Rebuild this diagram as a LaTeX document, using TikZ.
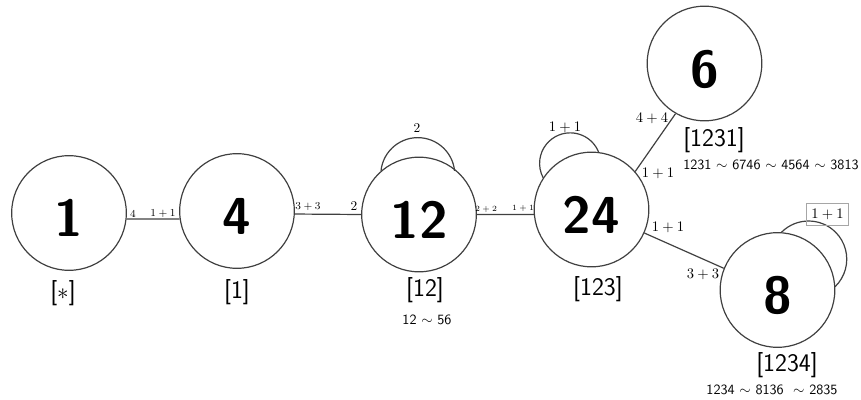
\documentclass[tikz,border=0pt]{standalone}
\usepackage{fontspec}
\begin{document}
\begin{tikzpicture}[x=0.75pt,y=0.75pt,
  vert/.style={circle, draw=black!75, line width=0.9pt, minimum size=86pt, inner sep=0pt,
    font=\fontsize{39}{39}\selectfont\sffamily\bfseries, text height=36pt, text depth=0pt},
  conn/.style={draw=black!75, line width=0.9pt},
  lab/.style={inner sep=0pt, font=\fontsize{19}{19}\selectfont\sffamily},
  rel/.style={inner sep=0pt, font=\fontsize{10.6}{11}\selectfont\sffamily},
  elab/.style={inner sep=0pt, font=\fontsize{11}{11}\selectfont},
  elabs/.style={inner sep=0pt, font=\fontsize{8}{8}\selectfont},
  elabt/.style={inner sep=0pt, font=\fontsize{6.5}{6.5}\selectfont},
  elabm/.style={inner sep=0pt, font=\fontsize{10}{10}\selectfont},
  boxlab/.style={draw=black!35, line width=0.6pt, minimum width=32pt, minimum height=16.5pt,
    inner sep=0pt, font=\fontsize{11}{11}\selectfont}]
\useasboundingbox (0,0) rectangle (861,400);
% vertices
\node[vert] (n1) at (69,187) {1};
\node[vert] (n4) at (237,189) {4};
\node[vert] (n12) at (419,185.5) {12};
\node[vert] (n24) at (591.5,190.5) {24};
\node[vert] (n6) at (704.5,336.5) {6};
\node[vert] (n8) at (777.5,110) {8};
% connectors
\draw[conn] (n1.-6) -- (n4.188);
\draw[conn] (n4.-3) -- (n12.180);
\draw[conn] (n12.0) -- (n24.185);
\draw[conn] (n24.41) -- (n6.240);
\draw[conn] (n24.-24) -- (n8.158);
% loops
\draw[conn] (n12.131) arc[start angle=174, end angle=6, radius=37];
\draw[conn] (n24.83) arc[start angle=22, end angle=208, radius=30.6];
\draw[conn] (n8.86) arc[start angle=135, end angle=-46, radius=38.2];
% edge labels
\node[elabs] (e1) at (133,186) {$4$};
\node[elabs] (e2) at (163,186) {$1+1$};
\node[elabs] (e3) at (308,193) {$3+3$};
\node[elabm] (e4) at (354,194) {$2$};
\node[elabt] (e5) at (486,191) {$2+2$};
\node[elabt] (e6) at (523,192) {$1+1$};
\node[elabm] (e7) at (417,272) {$2$};
\node[elab] (e8) at (565,273) {$1+1$};
\node[elab] (e9) at (652,282) {$4+4$};
\node[elab] (e10) at (658,227) {$1+1$};
\node[elab] (e11) at (668,173) {$1+1$};
\node[elab] (e12) at (703,126) {$3+3$};
\node[boxlab] (e13) at (827.5,186) {$1+1$};
% vertex labels
\node[lab] (l1) at (63,107) {[$\ast$]};
\node[lab] (l4) at (237,108) {[1]};
\node[lab] (l12) at (425,110) {[12]};
\node[rel] (r12) at (427,80) {12 $\sim$ 56};
\node[lab] (l24) at (598,111) {[123]};
\node[lab,anchor=west] (l6) at (683,260) {[1231]};
\node[rel,anchor=west] (r6) at (683,235) {1231 $\sim$ 6746 $\sim$ 4564 $\sim$ 3813};
\node[lab] (l8) at (787,35) {[1234]};
\node[rel] (r8) at (772,10) {1234 $\sim$ 8136 \ $\sim$ 2835};
\end{tikzpicture}
\end{document}
